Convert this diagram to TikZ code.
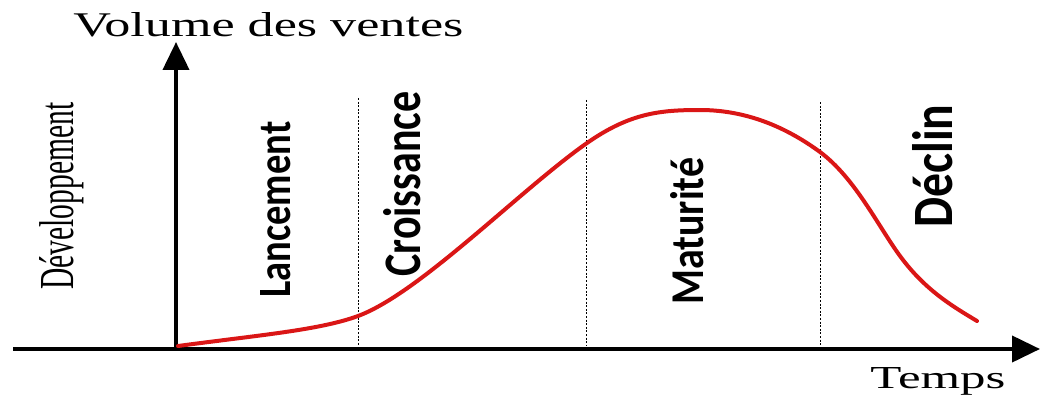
\documentclass[tikz,border=0pt]{standalone}
\usepackage{fontspec}
\setmainfont{Liberation Serif}
\newfontfamily\phasefont{Carlito}
\usepackage{graphicx}
\usetikzlibrary{arrows.meta}

\definecolor{curvered}{RGB}{218,22,22}

\begin{document}
\begin{tikzpicture}[x=0.5pt, y=-0.5pt,
	axis/.style={line width=2pt, -{Triangle[length=14pt, width=13pt]}},
	phase/.style={line width=0.5pt, dash pattern=on 1pt off 0.8pt},
	phaselabel/.style={rotate=90, anchor=base west, inner sep=0pt, font=\phasefont\bfseries},
	axislabel/.style={anchor=base west, inner sep=0pt}]

	\def \ybase {346}
	\def \ytop {100}

	\useasboundingbox (0,0) rectangle (1042,401);

	\coordinate (origin) at (176,349);
	\coordinate (xstart) at (13,349);
	\coordinate (xend) at (1040,349);
	\coordinate (yend) at (176,42);

	\draw[axis] (xstart) -- (xend);
	\draw[axis] (origin) -- (yend);

	\node[axislabel] (volume) at (73,37) {\resizebox{195pt}{12pt}{Volume des ventes}};
	\node[axislabel] (temps) at (870,388) {\resizebox{67.5pt}{10.5pt}{Temps}};
	\node[axislabel, rotate=90] (dev) at (73,290) {\resizebox{93.5pt}{17pt}{Développement}};

	% limites des phases
	\draw[phase] (358,98) -- (358,\ybase);
	\draw[phase] (586,\ytop) -- (586,\ybase);
	\draw[phase] (820,102) -- (820,\ybase);

	\node[phaselabel] (lancement) at (290,298) {\resizebox{88pt}{15pt}{Lancement}};
	\node[phaselabel] (croissance) at (420,277) {\resizebox{92.5pt}{18.5pt}{Croissance}};
	\node[phaselabel] (maturite) at (703,305) {\resizebox{73.5pt}{16.5pt}{Maturité}};
	\node[phaselabel] (declin) at (952,228) {\resizebox{61.5pt}{20pt}{Déclin}};

	\draw[curvered, line width=2pt, line cap=round] (178,346)
		.. controls (260,335) and (320,330) .. (358,316)
		.. controls (420,293) and (520,190) .. (587,143)
		.. controls (630,113) and (660,110) .. (700,110)
		.. controls (750,110) and (790,130) .. (820,152)
		.. controls (855,178) and (878,226) .. (900,256)
		.. controls (925,290) and (952,306) .. (977,321);

\end{tikzpicture}
\end{document}
